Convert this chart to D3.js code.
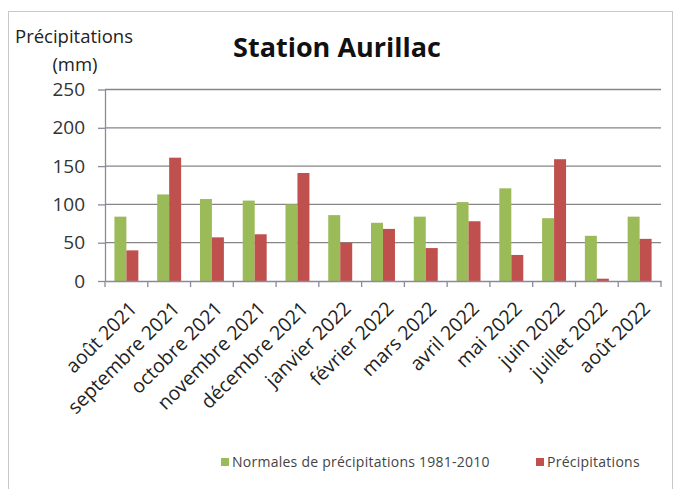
<!DOCTYPE html>
<html><head><meta charset="utf-8">
<script src="https://cdn.jsdelivr.net/npm/d3@7"></script>
<style>body{margin:0;background:#fff}svg{display:block}text{font-family:"Open Sans",sans-serif}</style>
</head><body><svg id="c" width="676" height="489"></svg>
<script>
const months = ["août 2021","septembre 2021","octobre 2021","novembre 2021","décembre 2021","janvier 2022","février 2022","mars 2022","avril 2022","mai 2022","juin 2022","juillet 2022","août 2022"];
const normales = [84, 113, 107, 105, 100, 86, 76, 84, 103, 121, 82, 59, 84];
const precipitations = [40, 161, 57, 61, 141, 50, 68, 43, 78, 34, 159, 3, 55];
const yTicks = [0, 50, 100, 150, 200, 250];
const seriesNames = ["Normales de précipitations 1981-2010", "Précipitations"];
const colors = ["#9bbb59", "#c0504d"];

const svg = d3.select("#c");
svg.append("rect").attr("x",8.5).attr("y",11.5).attr("width",664).attr("height",480)
  .attr("fill","#fff").attr("stroke","#c8c8c8");

const L=105, R=661, T=89.5, B=281;
const x = d3.scaleBand().domain(months).range([L,R]).padding(0);
const y = d3.scaleLinear().domain([0,250]).range([B,T]);
const bw = x.bandwidth();
const barW = bw*0.28, off = (bw-2*barW)/2;

// gridlines
svg.append("g").selectAll("line").data(yTicks.filter(d=>d>0)).join("line")
  .attr("x1",L).attr("x2",R).attr("y1",d=>y(d)).attr("y2",d=>y(d))
  .attr("stroke","#868686").attr("stroke-width",1.3);

// bars
[normales, precipitations].forEach((vals,si)=>{
  svg.append("g").selectAll("rect").data(vals).join("rect")
    .attr("x",(d,i)=>x(months[i])+off+si*barW)
    .attr("width",barW)
    .attr("y",d=>y(d)).attr("height",d=>B-y(d))
    .attr("fill",colors[si]);
});

// y axis
const ya = svg.append("g").attr("transform",`translate(${L},0)`)
  .call(d3.axisLeft(y).tickValues(yTicks).tickSize(7).tickPadding(13).tickSizeOuter(0));
ya.select(".domain").attr("stroke","#8a8a9a").attr("stroke-width",1.3);
ya.selectAll(".tick line").attr("stroke","#8a8a9a").attr("stroke-width",1.3);
ya.selectAll("text").attr("font-size",19).attr("fill","#333").attr("font-family","'Open Sans',sans-serif");

// x axis
const xa = svg.append("g").attr("transform",`translate(0,${B})`)
  .call(d3.axisBottom(x).tickSize(0).tickFormat(()=>""));
xa.select(".domain").attr("stroke","#8a8a9a").attr("stroke-width",1.3);
xa.selectAll(".tick").remove();
// ticks at category boundaries
const bounds = months.map(m=>x(m)).concat([R]);
svg.append("g").selectAll("line").data(bounds).join("line")
  .attr("x1",d=>d).attr("x2",d=>d).attr("y1",B).attr("y2",B+6)
  .attr("stroke","#8a8a9a").attr("stroke-width",1.3);
svg.append("g").selectAll("text").data(months).join("text")
  .attr("transform",d=>`translate(${x(d)+bw/2+7},${B+24}) rotate(-45)`)
  .attr("text-anchor","end").attr("dy","0.35em")
  .attr("font-size",19.5).attr("fill","#222").text(d=>d);

// titles
svg.append("text").attr("x",337).attr("y",57).attr("text-anchor","middle")
  .attr("font-size",27).attr("font-weight","bold").attr("fill","#111").text("Station Aurillac");
svg.append("text").attr("x",15).attr("y",43).attr("font-size",18.5).attr("fill","#222").text("Précipitations");
svg.append("text").attr("x",75).attr("y",71).attr("text-anchor","middle").attr("font-size",18.5).attr("fill","#222").text("(mm)");

// legend
const legX = [221, 536];
seriesNames.forEach((n,i)=>{
  svg.append("rect").attr("x",legX[i]).attr("y",458).attr("width",8).attr("height",8).attr("fill",colors[i]);
  svg.append("text").attr("x",legX[i]+11).attr("y",467).attr("font-size",14).attr("letter-spacing",0.25).attr("fill","#444").text(n);
});
</script></body></html>
